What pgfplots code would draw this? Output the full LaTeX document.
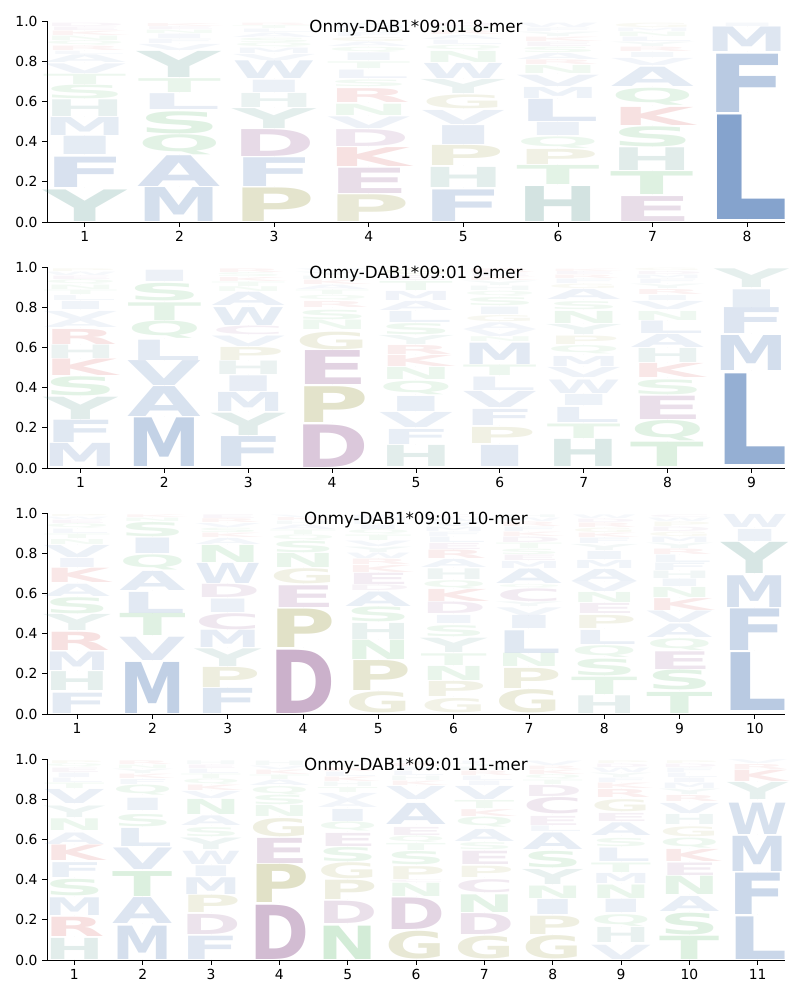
\documentclass[border=0pt]{standalone}
\usepackage{graphicx}
\usepackage{fontspec}
\setmainfont{DejaVu Sans}
\newfontfamily\logofont{DejaVu Sans Bold}
\usepackage{pgfplots}
\usepackage{pgfplotstable}
\pgfplotsset{compat=1.18}

\definecolor{hblue}{RGB}{69,115,178}
\definecolor{hteal}{RGB}{70,140,130}
\definecolor{hpurp}{RGB}{128,64,128}
\definecolor{hkhak}{RGB}{140,140,40}
\definecolor{hgreen}{RGB}{60,170,80}
\definecolor{hred}{RGB}{200,40,40}
\colorlet{cA}{hblue}\colorlet{cF}{hblue}\colorlet{cI}{hblue}\colorlet{cL}{hblue}
\colorlet{cM}{hblue}\colorlet{cV}{hblue}\colorlet{cW}{hblue}
\colorlet{cC}{hpurp}\colorlet{cD}{hpurp}\colorlet{cE}{hpurp}
\colorlet{cG}{hkhak}\colorlet{cP}{hkhak}
\colorlet{cH}{hteal}\colorlet{cY}{hteal}
\colorlet{cK}{hred}\colorlet{cR}{hred}
\colorlet{cN}{hgreen}\colorlet{cQ}{hgreen}\colorlet{cS}{hgreen}\colorlet{cT}{hgreen}

\pgfplotstableread{
x b t l
1 0.003 0.160 Y
1 0.172 0.323 F
1 0.334 0.425 I
1 0.430 0.520 M
1 0.525 0.608 H
1 0.612 0.680 S
1 0.684 0.735 T
1 0.740 0.788 V
1 0.792 0.830 A
1 0.834 0.850 L
1 0.853 0.875 R
1 0.878 0.900 Q
1 0.903 0.925 N
1 0.928 0.950 K
1 0.953 0.970 E
1 0.973 0.990 D
2 0.003 0.172 M
2 0.177 0.330 A
2 0.334 0.434 Q
2 0.440 0.550 S
2 0.558 0.637 L
2 0.646 0.715 T
2 0.720 0.850 Y
2 0.855 0.885 V
2 0.888 0.910 F
2 0.913 0.935 I
2 0.938 0.955 N
2 0.958 0.972 E
2 0.975 0.990 K
3 0.003 0.170 P
3 0.177 0.320 F
3 0.326 0.460 D
3 0.467 0.566 Y
3 0.570 0.640 H
3 0.646 0.707 I
3 0.712 0.800 W
3 0.805 0.835 V
3 0.838 0.865 M
3 0.868 0.890 Q
3 0.893 0.915 S
3 0.918 0.940 A
3 0.943 0.960 L
3 0.963 0.978 T
3 0.980 0.992 R
4 0.003 0.136 P
4 0.144 0.270 E
4 0.276 0.370 K
4 0.376 0.460 D
4 0.467 0.525 V
4 0.530 0.586 N
4 0.596 0.665 R
4 0.674 0.707 S
4 0.715 0.757 L
4 0.765 0.798 T
4 0.802 0.840 I
4 0.845 0.870 Q
4 0.873 0.895 A
4 0.898 0.918 G
4 0.921 0.940 F
4 0.943 0.958 H
4 0.961 0.975 M
4 0.978 0.990 Y
5 0.003 0.160 F
5 0.170 0.270 H
5 0.280 0.380 P
5 0.384 0.478 I
5 0.487 0.557 V
5 0.563 0.632 G
5 0.637 0.707 Y
5 0.715 0.790 W
5 0.795 0.850 N
5 0.855 0.880 Q
5 0.883 0.905 L
5 0.908 0.928 A
5 0.931 0.950 R
5 0.953 0.970 S
5 0.973 0.990 D
6 0.003 0.177 H
6 0.185 0.280 T
6 0.285 0.360 P
6 0.368 0.425 Q
6 0.430 0.495 I
6 0.500 0.610 L
6 0.615 0.670 M
6 0.674 0.730 V
6 0.740 0.780 N
6 0.783 0.806 R
6 0.810 0.840 A
6 0.843 0.870 S
6 0.873 0.895 E
6 0.898 0.920 K
6 0.923 0.945 Y
6 0.948 0.965 F
6 0.968 0.990 W
7 0.003 0.127 E
7 0.136 0.250 T
7 0.257 0.370 H
7 0.375 0.475 S
7 0.480 0.570 K
7 0.580 0.665 Q
7 0.674 0.770 A
7 0.780 0.815 V
7 0.820 0.845 I
7 0.848 0.870 R
7 0.873 0.895 Y
7 0.898 0.920 L
7 0.923 0.945 N
7 0.948 0.965 M
7 0.968 0.990 G
8 0.010 0.530 L
8 0.546 0.836 F
8 0.848 0.970 M
8 0.973 0.990 I
}\tA

\pgfplotstableread{
x b t l
1 0.005 0.120 M
1 0.126 0.237 F
1 0.242 0.353 Y
1 0.358 0.453 S
1 0.458 0.540 K
1 0.545 0.612 H
1 0.615 0.690 R
1 0.700 0.740 A
1 0.740 0.780 V
1 0.790 0.830 I
1 0.835 0.860 L
1 0.863 0.885 T
1 0.888 0.910 N
1 0.913 0.935 Q
1 0.938 0.955 E
1 0.958 0.975 W
1 0.977 0.990 P
2 0.005 0.247 M
2 0.254 0.403 A
2 0.408 0.532 V
2 0.536 0.637 L
2 0.645 0.731 Q
2 0.735 0.823 T
2 0.830 0.917 S
2 0.927 0.983 I
3 0.005 0.154 F
3 0.164 0.275 Y
3 0.280 0.375 M
3 0.380 0.458 I
3 0.463 0.530 H
3 0.535 0.600 P
3 0.604 0.656 V
3 0.662 0.705 C
3 0.708 0.797 W
3 0.806 0.872 A
3 0.876 0.900 N
3 0.903 0.925 T
3 0.928 0.948 K
3 0.951 0.970 S
3 0.972 0.990 R
4 0.005 0.217 D
4 0.225 0.403 P
4 0.413 0.582 E
4 0.590 0.678 G
4 0.688 0.735 N
4 0.738 0.785 S
4 0.800 0.830 R
4 0.835 0.860 Q
4 0.863 0.885 T
4 0.888 0.910 A
4 0.913 0.935 K
4 0.938 0.955 H
4 0.958 0.975 Y
4 0.977 0.990 V
5 0.005 0.110 H
5 0.115 0.190 F
5 0.200 0.275 V
5 0.283 0.358 I
5 0.366 0.433 Q
5 0.440 0.500 N
5 0.505 0.560 K
5 0.565 0.610 R
5 0.615 0.660 Y
5 0.665 0.720 S
5 0.725 0.780 L
5 0.785 0.830 A
5 0.835 0.880 M
5 0.885 0.930 T
5 0.935 0.960 E
5 0.963 0.990 G
6 0.005 0.110 I
6 0.120 0.200 P
6 0.210 0.290 F
6 0.300 0.380 V
6 0.386 0.453 L
6 0.458 0.510 T
6 0.517 0.623 M
6 0.628 0.652 N
6 0.656 0.690 V
6 0.690 0.723 A
6 0.730 0.760 G
6 0.763 0.800 I
6 0.810 0.850 S
6 0.855 0.880 Q
6 0.883 0.905 H
6 0.908 0.930 Y
6 0.933 0.950 K
6 0.953 0.970 E
6 0.972 0.990 R
7 0.005 0.140 H
7 0.148 0.220 T
7 0.225 0.300 L
7 0.310 0.365 I
7 0.370 0.437 W
7 0.450 0.500 V
7 0.507 0.557 M
7 0.566 0.607 Q
7 0.615 0.657 P
7 0.665 0.715 Y
7 0.720 0.780 N
7 0.790 0.830 S
7 0.840 0.890 A
7 0.893 0.915 G
7 0.918 0.940 F
7 0.943 0.960 R
7 0.963 0.978 E
7 0.980 0.992 K
8 0.005 0.126 T
8 0.134 0.235 Q
8 0.242 0.358 E
8 0.366 0.440 S
8 0.450 0.520 K
8 0.525 0.595 H
8 0.600 0.665 A
8 0.668 0.730 L
8 0.735 0.780 N
8 0.790 0.830 V
8 0.835 0.860 I
8 0.865 0.890 R
8 0.893 0.915 Y
8 0.918 0.940 F
8 0.943 0.960 M
8 0.963 0.978 D
8 0.980 0.992 G
9 0.015 0.466 L
9 0.483 0.657 M
9 0.668 0.797 F
9 0.800 0.888 I
9 0.897 0.990 Y
}\tB

\pgfplotstableread{
x b t l
1 0.005 0.106 F
1 0.115 0.209 H
1 0.218 0.310 M
1 0.317 0.408 R
1 0.416 0.496 Y
1 0.500 0.580 S
1 0.584 0.645 A
1 0.652 0.723 K
1 0.728 0.773 I
1 0.780 0.840 V
1 0.845 0.870 N
1 0.873 0.895 T
1 0.898 0.920 L
1 0.923 0.945 Q
1 0.948 0.965 E
1 0.968 0.980 W
1 0.982 0.992 P
2 0.005 0.259 M
2 0.267 0.383 V
2 0.390 0.500 T
2 0.502 0.607 L
2 0.612 0.707 A
2 0.715 0.790 Q
2 0.800 0.877 I
2 0.884 0.955 S
2 0.958 0.975 N
2 0.977 0.990 K
3 0.005 0.130 F
3 0.134 0.234 P
3 0.237 0.325 Y
3 0.330 0.416 M
3 0.420 0.500 C
3 0.507 0.574 I
3 0.582 0.648 D
3 0.650 0.750 W
3 0.755 0.840 N
3 0.845 0.875 A
3 0.878 0.900 K
3 0.903 0.925 S
3 0.928 0.948 V
3 0.951 0.970 R
3 0.972 0.990 E
4 0.005 0.320 D
4 0.333 0.524 P
4 0.532 0.640 E
4 0.648 0.723 G
4 0.730 0.800 N
4 0.803 0.860 S
4 0.863 0.890 Q
4 0.893 0.915 T
4 0.918 0.940 A
4 0.943 0.960 H
4 0.963 0.978 K
4 0.980 0.992 V
5 0.005 0.110 G
5 0.115 0.264 P
5 0.270 0.366 N
5 0.370 0.450 H
5 0.458 0.532 S
5 0.535 0.607 A
5 0.612 0.640 D
5 0.644 0.700 E
5 0.705 0.740 K
5 0.743 0.770 R
5 0.773 0.800 W
5 0.803 0.830 Y
5 0.833 0.860 V
5 0.863 0.890 T
5 0.893 0.915 Q
5 0.918 0.940 I
5 0.943 0.960 L
5 0.963 0.978 M
5 0.980 0.992 F
6 0.005 0.076 G
6 0.085 0.160 P
6 0.167 0.237 N
6 0.242 0.300 T
6 0.304 0.375 Y
6 0.385 0.440 S
6 0.450 0.490 I
6 0.500 0.557 D
6 0.560 0.620 K
6 0.625 0.665 Q
6 0.670 0.723 H
6 0.730 0.770 A
6 0.773 0.815 R
6 0.820 0.850 E
6 0.853 0.880 L
6 0.883 0.905 F
6 0.908 0.930 M
6 0.933 0.955 V
6 0.958 0.975 W
6 0.977 0.990 C
7 0.005 0.121 G
7 0.126 0.226 P
7 0.234 0.300 N
7 0.303 0.416 L
7 0.425 0.490 I
7 0.492 0.530 V
7 0.533 0.556 Y
7 0.560 0.624 C
7 0.628 0.645 Q
7 0.648 0.720 A
7 0.725 0.760 M
7 0.763 0.790 E
7 0.793 0.820 S
7 0.823 0.850 T
7 0.853 0.880 D
7 0.883 0.905 K
7 0.908 0.930 F
7 0.933 0.955 R
7 0.958 0.975 W
7 0.977 0.990 H
8 0.005 0.093 H
8 0.098 0.184 T
8 0.192 0.275 S
8 0.284 0.342 Q
8 0.347 0.417 L
8 0.425 0.490 P
8 0.500 0.550 E
8 0.557 0.607 N
8 0.610 0.660 V
8 0.660 0.720 A
8 0.725 0.765 M
8 0.770 0.810 I
8 0.815 0.845 Y
8 0.848 0.875 F
8 0.878 0.900 K
8 0.903 0.925 G
8 0.928 0.950 R
8 0.953 0.970 D
8 0.972 0.990 W
9 0.005 0.110 T
9 0.118 0.217 S
9 0.220 0.308 E
9 0.317 0.375 Q
9 0.383 0.450 A
9 0.453 0.510 V
9 0.515 0.574 K
9 0.580 0.630 N
9 0.633 0.670 I
9 0.673 0.710 H
9 0.713 0.750 F
9 0.753 0.790 L
9 0.793 0.820 R
9 0.823 0.850 Y
9 0.853 0.880 M
9 0.883 0.905 G
9 0.908 0.930 D
9 0.933 0.955 P
9 0.958 0.975 W
9 0.977 0.990 C
10 0.015 0.303 L
10 0.317 0.524 F
10 0.532 0.690 M
10 0.700 0.855 Y
10 0.860 0.920 I
10 0.930 0.995 W
}\tC

\pgfplotstableread{
x b t l
1 0.005 0.110 H
1 0.118 0.214 R
1 0.222 0.310 M
1 0.318 0.400 S
1 0.410 0.484 F
1 0.493 0.570 K
1 0.575 0.632 A
1 0.642 0.700 N
1 0.708 0.765 Y
1 0.780 0.850 V
1 0.853 0.880 T
1 0.883 0.905 L
1 0.908 0.930 I
1 0.933 0.955 E
1 0.958 0.975 Q
1 0.977 0.990 P
2 0.005 0.171 M
2 0.181 0.310 A
2 0.317 0.441 T
2 0.450 0.557 V
2 0.567 0.657 L
2 0.662 0.723 S
2 0.745 0.806 I
2 0.822 0.872 Q
2 0.875 0.900 F
2 0.903 0.925 K
2 0.928 0.950 Y
2 0.953 0.970 N
2 0.972 0.990 R
3 0.005 0.121 F
3 0.126 0.226 D
3 0.234 0.320 P
3 0.325 0.408 M
3 0.416 0.469 I
3 0.474 0.540 W
3 0.550 0.607 Y
3 0.615 0.660 S
3 0.667 0.715 A
3 0.725 0.800 N
3 0.805 0.840 V
3 0.843 0.870 K
3 0.873 0.900 Q
3 0.903 0.925 T
3 0.928 0.950 L
3 0.953 0.970 E
3 0.972 0.990 H
4 0.005 0.275 D
4 0.284 0.474 P
4 0.482 0.607 E
4 0.615 0.706 G
4 0.715 0.770 N
4 0.773 0.820 S
4 0.823 0.864 Q
4 0.868 0.895 A
4 0.898 0.920 T
4 0.923 0.945 K
4 0.948 0.965 V
4 0.968 0.990 H
5 0.005 0.171 N
5 0.181 0.292 D
5 0.300 0.396 P
5 0.403 0.483 G
5 0.491 0.562 S
5 0.567 0.632 E
5 0.640 0.685 Q
5 0.690 0.750 I
5 0.760 0.795 A
5 0.795 0.830 V
5 0.835 0.860 T
5 0.863 0.885 H
5 0.888 0.910 K
5 0.913 0.935 L
5 0.938 0.955 R
5 0.958 0.975 Y
5 0.977 0.990 F
6 0.005 0.143 G
6 0.151 0.308 D
6 0.317 0.383 N
6 0.386 0.400 C
6 0.402 0.466 P
6 0.474 0.540 S
6 0.545 0.580 T
6 0.583 0.615 Q
6 0.620 0.660 E
6 0.675 0.780 A
6 0.800 0.865 V
6 0.868 0.890 K
6 0.893 0.915 H
6 0.918 0.940 L
6 0.943 0.960 I
6 0.963 0.978 R
6 0.980 0.992 Y
7 0.005 0.118 G
7 0.126 0.230 D
7 0.237 0.325 N
7 0.335 0.400 C
7 0.410 0.466 P
7 0.474 0.540 E
7 0.547 0.582 S
7 0.590 0.650 A
7 0.660 0.710 Q
7 0.716 0.750 K
7 0.755 0.795 T
7 0.800 0.865 V
7 0.868 0.890 I
7 0.893 0.915 L
7 0.918 0.940 R
7 0.943 0.960 H
7 0.963 0.978 Y
7 0.980 0.992 F
8 0.005 0.121 G
8 0.126 0.217 P
8 0.225 0.300 I
8 0.305 0.367 N
8 0.375 0.450 Y
8 0.458 0.540 S
8 0.550 0.632 A
8 0.637 0.665 L
8 0.670 0.715 E
8 0.725 0.806 C
8 0.815 0.870 D
8 0.873 0.895 T
8 0.898 0.920 Q
8 0.923 0.945 K
8 0.948 0.965 R
8 0.968 0.990 V
9 0.005 0.076 V
9 0.085 0.160 H
9 0.167 0.225 Q
9 0.234 0.300 I
9 0.308 0.375 N
9 0.383 0.433 M
9 0.436 0.483 T
9 0.490 0.557 L
9 0.566 0.607 S
9 0.617 0.680 A
9 0.690 0.730 E
9 0.740 0.800 G
9 0.810 0.850 R
9 0.853 0.880 K
9 0.883 0.905 F
9 0.908 0.930 Y
9 0.933 0.955 W
9 0.958 0.975 D
9 0.977 0.990 P
10 0.005 0.121 T
10 0.126 0.234 S
10 0.242 0.317 A
10 0.325 0.416 N
10 0.420 0.482 E
10 0.490 0.550 K
10 0.557 0.607 Q
10 0.615 0.664 G
10 0.673 0.723 H
10 0.730 0.780 V
10 0.790 0.820 R
10 0.823 0.850 Y
10 0.853 0.880 M
10 0.883 0.905 I
10 0.908 0.930 L
10 0.933 0.955 F
10 0.958 0.975 D
10 0.977 0.990 P
11 0.005 0.217 L
11 0.227 0.433 F
11 0.440 0.615 M
11 0.624 0.780 W
11 0.800 0.885 Y
11 0.890 0.946 K
11 0.950 0.975 R
11 0.978 0.997 V
}\tD

\pgfplotsset{
  logo/.style={
    width=553.5pt, height=150.75pt, scale only axis,
    xmin=0.6, ymin=0, ymax=1,
    axis x line*=bottom, axis y line*=left,
    axis line style={line width=0.6pt, black},
    tick align=outside, major tick length=3.6pt,
    tick style={line width=0.6pt, black},
    ytick={0,0.2,0.4,0.6,0.8,1.0},
    yticklabel style={/pgf/number format/.cd, fixed, fixed zerofill, precision=1},
    /pgf/number format/assume math mode=true,
    tick label style={font=\fontsize{10.4}{12}\selectfont},
    title style={at={(axis description cs:0.5,0.925)}, anchor=center, font=\fontsize{12.5}{15}\selectfont},
  },
  letters/.style={
    only marks, mark=*, mark size=0pt, mark options={draw=none, fill=none},
    point meta=explicit symbolic,
    visualization depends on={(\thisrow{t}-\thisrow{b})*150.75 \as \LetH},
    visualization depends on={min(0.9,0.03+1.2*(\thisrow{t}-\thisrow{b})) \as \LetO},
    nodes near coords={\resizebox*{\LW}{\LetH pt}{\logofont\color{c\pgfplotspointmeta}\pgfplotspointmeta}},
    every node near coord/.append style={anchor=south, inner sep=0pt, outer sep=0pt, text opacity=\LetO},
  },
}

\begin{document}
\begin{tikzpicture}
\useasboundingbox (-35.25pt,-583.5pt) rectangle (564.75pt,166.5pt);

\def\LW{62.4pt}
\begin{axis}[logo, at={(0pt,0pt)}, xmax=8.4, xtick={1,...,8}, title={Onmy-DAB1*09:01 8-mer}]
\addplot[letters] table[x=x, y=b, meta=l]{\tA};
\end{axis}

\def\LW{55.3pt}
\begin{axis}[logo, at={(0pt,-184.5pt)}, xmax=9.4, xtick={1,...,9}, title={Onmy-DAB1*09:01 9-mer}]
\addplot[letters] table[x=x, y=b, meta=l]{\tB};
\end{axis}

\def\LW{49.7pt}
\begin{axis}[logo, at={(0pt,-369pt)}, xmax=10.4, xtick={1,...,10}, title={Onmy-DAB1*09:01 10-mer}]
\addplot[letters] table[x=x, y=b, meta=l]{\tC};
\end{axis}

\def\LW{45.1pt}
\begin{axis}[logo, at={(0pt,-553.5pt)}, xmax=11.4, xtick={1,...,11}, title={Onmy-DAB1*09:01 11-mer}]
\addplot[letters] table[x=x, y=b, meta=l]{\tD};
\end{axis}
\end{tikzpicture}
\end{document}
